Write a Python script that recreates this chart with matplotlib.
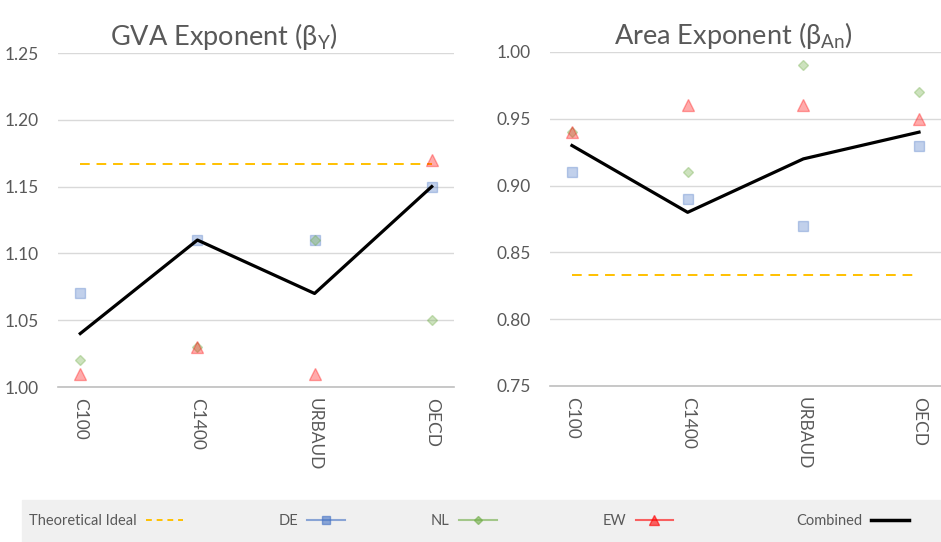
import numpy as np
import matplotlib.pyplot as plt
from matplotlib.lines import Line2D
from matplotlib.patches import Rectangle

plt.rcParams['font.family'] = ['Lato', 'DejaVu Sans']
plt.rcParams['mathtext.default'] = 'regular'

############## DATA
categories = ['C100', 'C1400', 'URBAUD', 'OECD']

gva_de = [1.07, 1.11, 1.11, 1.15]
gva_nl = [1.02, 1.03, 1.11, 1.05]
gva_ew = [1.01, 1.03, 1.01, 1.17]
gva_combined = [1.04, 1.11, 1.07, 1.15]
gva_ideal = [7 / 6] * 4

area_de = [0.91, 0.89, 0.87, 0.93]
area_nl = [0.94, 0.91, 0.99, 0.97]
area_ew = [0.94, 0.96, 0.96, 0.95]
area_combined = [0.93, 0.88, 0.92, 0.94]
area_ideal = [5 / 6] * 4

############## STYLES
TXT = '#595959'
GRID = '#d9d9d9'
DE_C, NL_C, EW_C = '#4472c4', '#70ad47', '#ff0000'
IDEAL_C = '#ffc000'


def draw_panel(ax, de, nl, ew, comb, ideal, ylim, yticks, title, title_x):
    x = np.arange(len(categories))
    ax.plot(x, ideal, color=IDEAL_C, lw=1.4, dashes=(5, 3.5), zorder=2)
    ax.plot(x, de, ls='none', marker='s', ms=7.5, color=DE_C, alpha=0.33, zorder=3)
    ax.plot(x, nl, ls='none', marker='D', ms=5.5, color=NL_C, alpha=0.35, zorder=3)
    ax.plot(x, ew, ls='none', marker='^', ms=8, color=EW_C, alpha=0.33, zorder=3)
    ax.plot(x, comb, color='black', lw=2.3, zorder=4)

    ax.set_xlim(-0.19, len(categories) - 1 + 0.19)
    ax.set_ylim(*ylim)
    ax.set_yticks(yticks)
    ax.set_yticklabels([f'{v:.2f}' for v in yticks])
    ax.set_xticks(x)
    ax.set_xticklabels(categories, rotation=270)
    ax.tick_params(axis='both', length=0, labelsize=12.5, labelcolor=TXT)
    ax.tick_params(axis='y', pad=14)
    ax.tick_params(axis='x', pad=8)
    ax.grid(axis='y', color=GRID, lw=1)
    ax.set_axisbelow(True)
    for s in ['top', 'right', 'left']:
        ax.spines[s].set_visible(False)
    ax.spines['bottom'].set_color('#bfbfbf')
    ax.spines['bottom'].set_linewidth(1.2)
    ax.set_title(title, fontsize=19.5, color=TXT, pad=6, x=title_x)


fig = plt.figure(figsize=(9.41, 5.42), dpi=100)
ax1 = fig.add_axes([58 / 941, 1 - 387 / 542, 396 / 941, 334 / 542])
ax2 = fig.add_axes([550 / 941, 1 - 386 / 542, 391 / 941, 334 / 542])

draw_panel(ax1, gva_de, gva_nl, gva_ew, gva_combined, gva_ideal,
           (1.0, 1.25), np.arange(1.0, 1.2501, 0.05), r'GVA Exponent (β$_{Y}$)', 0.42)
draw_panel(ax2, area_de, area_nl, area_ew, area_combined, area_ideal,
           (0.75, 1.0), np.arange(0.75, 1.0001, 0.05), r'Area Exponent (β$_{An}$)', 0.47)

############## LEGEND (grey strip at the bottom)
fig.patches.append(Rectangle((22 / 941, 0), 1 - 22 / 941, 42 / 542,
                             transform=fig.transFigure, color='#f0f0f0', zorder=0))

handles = [
    (Line2D([], [], color=IDEAL_C, lw=1.4, dashes=(3, 2.5)), 'Theoretical Ideal', 16),
    (Line2D([], [], color=DE_C, lw=1.5, alpha=0.6, marker='s', ms=6), 'DE', 265),
    (Line2D([], [], color=NL_C, lw=1.5, alpha=0.6, marker='D', ms=4.5), 'NL', 418),
    (Line2D([], [], color=EW_C, lw=1.5, alpha=0.6, marker='^', ms=6.5), 'EW', 590),
    (Line2D([], [], color='black', lw=2.5), 'Combined', 783),
]
for h, lab, xpix in handles:
    leg = fig.legend(handles=[h], labels=[lab], loc='center left',
                     bbox_to_anchor=(xpix / 941, 21 / 542), frameon=False,
                     markerfirst=False, handlelength=2.6,
                     handletextpad=0.6, labelcolor=TXT,
                     prop={'size': 10.5})

fig.savefig('out.png', dpi=100)
